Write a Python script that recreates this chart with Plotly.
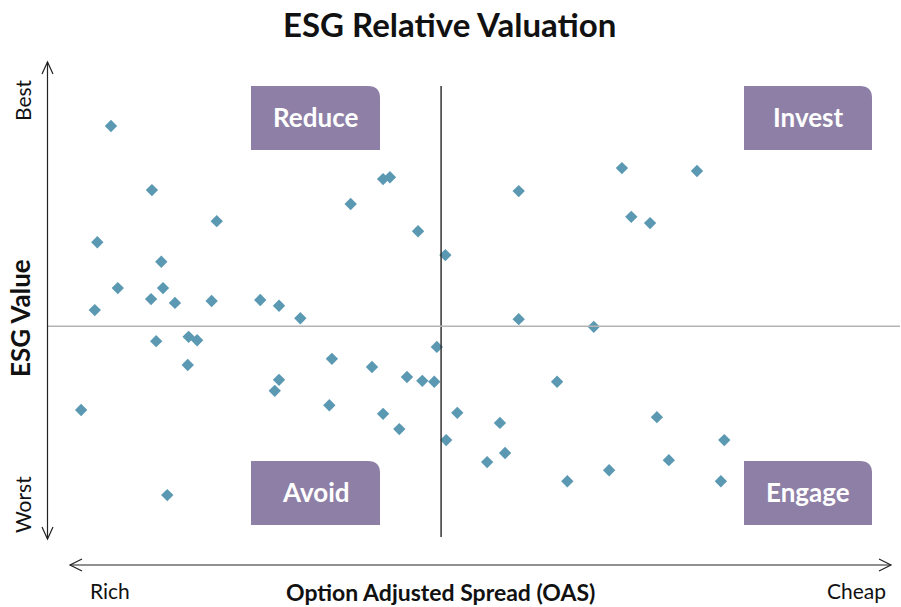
import plotly.graph_objects as go

# OAS (0 = richest, 100 = cheapest) vs ESG value (0 = worst, 100 = best)
OAS = [7.5, 12.3, 19.9, 5.9, 13.4, 8.3, 13.6, 12.2, 15.0, 19.3,
       5.6, 25.0, 27.2, 29.7, 16.6, 17.6, 12.8, 16.5, 4.0, 14.1,
       35.6, 39.4, 40.2, 43.5, 46.7, 33.4, 38.1, 27.2, 26.7, 33.1,
       42.2, 44.0, 45.4, 45.7, 39.4, 41.3, 48.1, 46.8, 51.6, 53.1,
       53.7, 55.3, 55.3, 67.4, 76.2, 68.5, 70.7, 64.1, 59.8, 71.5,
       79.4, 72.9, 65.9, 61.0, 79.0]
ESG = [86.6, 73.2, 66.7, 62.3, 58.2, 52.7, 52.7, 50.4, 49.6, 50.0,
       48.1, 50.2, 49.0, 46.4, 42.5, 41.8, 41.6, 36.6, 27.2, 9.4,
       70.3, 75.5, 75.9, 64.6, 59.6, 37.9, 36.2, 33.5, 31.2, 28.2,
       34.1, 33.3, 33.1, 40.4, 26.4, 23.2, 26.6, 20.9, 16.3, 24.5,
       18.2, 73.0, 46.2, 77.8, 77.2, 67.6, 66.3, 44.6, 33.1, 25.7,
       20.9, 16.7, 14.6, 12.3, 12.3]
MID_OAS = 46.2
MID_ESG = 44.7
QUADRANTS = ['Reduce', 'Invest', 'Avoid', 'Engage']

W, H = 901, 607
L, R, T, B = 47, 900, 62, 540   # plot area in pixels
MARKER_CLR = '#5b99b3'
BOX_CLR = '#8e7fa6'
FONT = 'Lato, Open Sans, sans-serif'


def px(x):
    return (x - L) / (R - L)


def py(y):
    return (B - y) / (B - T)


fig = go.Figure()
fig.add_trace(go.Scatter(
    x=OAS, y=ESG, mode='markers',
    marker=dict(symbol='diamond', size=9.5, color=MARKER_CLR),
    hovertemplate='OAS %{x}<br>ESG %{y}<extra></extra>',
))

shapes = []
line_k = dict(color='#222222', width=1.2)
# quadrant lines
shapes.append(dict(type='line', xref='x', yref='paper', x0=MID_OAS, x1=MID_OAS,
                   y0=py(537), y1=py(86), line=dict(color='#333333', width=1.5)))
shapes.append(dict(type='line', xref='paper', yref='y', x0=0, x1=1,
                   y0=MID_ESG, y1=MID_ESG, line=dict(color='#b4b4b4', width=1.5)))
# y arrow
shapes.append(dict(type='line', xref='paper', yref='paper', x0=px(47.5), x1=px(47.5),
                   y0=py(539), y1=py(62), line=line_k))
shapes.append(dict(type='path', xref='paper', yref='paper',
                   path=f'M {px(42)},{py(74)} L {px(47.5)},{py(62)} L {px(53)},{py(74)}',
                   line=line_k))
shapes.append(dict(type='path', xref='paper', yref='paper',
                   path=f'M {px(42)},{py(527)} L {px(47.5)},{py(539)} L {px(53)},{py(527)}',
                   line=line_k))
# x arrow
shapes.append(dict(type='line', xref='paper', yref='paper', x0=px(70), x1=px(891),
                   y0=py(565), y1=py(565), line=line_k))
shapes.append(dict(type='path', xref='paper', yref='paper',
                   path=f'M {px(82)},{py(559)} L {px(70)},{py(565)} L {px(82)},{py(571)}',
                   line=line_k))
shapes.append(dict(type='path', xref='paper', yref='paper',
                   path=f'M {px(879)},{py(559)} L {px(891)},{py(565)} L {px(879)},{py(571)}',
                   line=line_k))

# quadrant label boxes (top-right corner rounded)
boxes = [(251, 380, 86, 150), (744, 872, 86, 150),
         (251, 380, 461, 525), (744, 872, 461, 525)]
annotations = []
rad = 12
for name, (x0, x1, y0, y1) in zip(QUADRANTS, boxes):
    path = (f'M {px(x0)},{py(y1)} L {px(x0)},{py(y0)} L {px(x1 - rad)},{py(y0)} '
            f'Q {px(x1)},{py(y0)} {px(x1)},{py(y0 + rad)} L {px(x1)},{py(y1)} Z')
    shapes.append(dict(type='path', xref='paper', yref='paper', path=path,
                       fillcolor=BOX_CLR, line=dict(width=0), layer='below'))
    annotations.append(dict(text=f'<b>{name}</b>', x=px((x0 + x1) / 2), y=py((y0 + y1) / 2 - 1),
                            xref='paper', yref='paper', showarrow=False,
                            xanchor='center', yanchor='middle',
                            font=dict(size=26, color='white', family=FONT)))

texts = [
    ('<b>ESG Relative Valuation</b>', 449, 24, 33, 0),
    ('<b>Option Adjusted Spread (OAS)</b>', 440, 592, 23, 0),
    ('Rich', 110, 590, 21, 0),
    ('Cheap', 856, 590, 21, 0),
    ('<b>ESG Value</b>', 20, 318, 26, -90),
    ('Best', 22, 100, 21, -90),
    ('Worst', 22, 505, 21, -90),
]
for txt, x, y, size, ang in texts:
    annotations.append(dict(text=txt, x=px(x), y=py(y), xref='paper', yref='paper',
                            showarrow=False, textangle=ang, xanchor='center', yanchor='middle',
                            font=dict(size=size, color='#111111', family=FONT)))

fig.update_layout(
    width=W, height=H,
    plot_bgcolor='white', paper_bgcolor='white',
    margin=dict(l=L, r=W - R, t=T, b=H - B),
    xaxis=dict(range=[0, 100], visible=False, fixedrange=True),
    yaxis=dict(range=[0, 100], visible=False, fixedrange=True),
    shapes=shapes, annotations=annotations,
    showlegend=False,
)
fig.write_html('out.html', config={'displayModeBar': False},
               post_script="document.body.style.margin='0';")
